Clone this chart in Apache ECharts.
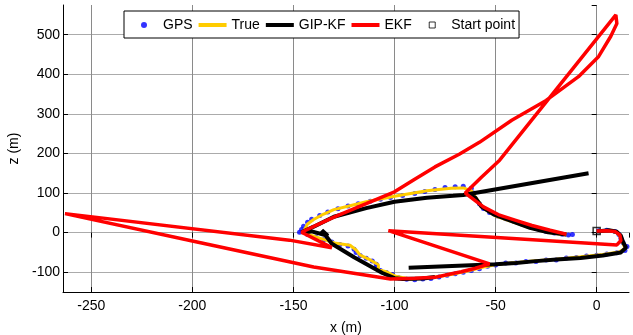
<!DOCTYPE html>
<html>
<head>
<meta charset="utf-8">
<script src="https://cdn.jsdelivr.net/npm/echarts@6/dist/echarts.min.js"></script>
<style>
  html, body { margin: 0; padding: 0; background: #fff; }
  #chart { width: 633px; height: 335px; }
</style>
</head>
<body>
<div id="chart"></div>
<script>
// x / z positions (m)
const trueX = [0, 6, 10, 12, 13, 14, 11, 3, -8, -20, -30, -38, -48, -55, -63, -72, -82, -92, -99, -104, -108, -108, -112, -117, -119, -122, -129, -137, -143, -145,
  -143, -140, -135, -130, -122, -114, -100, -84, -72, -66, -62, -60, -56, -50, -42, -33, -24, -15]
const trueY = [3, 5, 0, -12, -27, -40, -49, -55, -61, -67, -71, -75, -79, -86, -96, -106, -114, -117, -111, -99, -94, -81, -69, -57, -44, -32, -27, -14, -4, 3,
  22, 33, 47, 58, 68, 78, 92, 106, 112, 113, 106, 90, 62, 42, 28, 12, 1, -6]

const gpsX = [1, 5, 9, 11, 12, 13, 15, 14, 10, 5, 0,
  -5, -10, -15, -20, -25, -30, -35, -40, -45, -50, -54, -58, -62, -66, -70, -74, -78, -82, -86, -90, -94, -98,
  -101, -104, -107, -109, -109, -111, -114, -117, -119, -120, -123, -127, -131, -135, -139, -143, -147,
  -146, -145, -143, -141, -137, -133, -128, -123, -118, -112, -107, -102, -96, -90, -85, -80, -75, -70, -66, -62,
  -61, -60, -58, -56, -53, -49, -45, -41, -37, -33, -29, -25, -21, -17, -14, -12]
const gpsY = [5, 6, 3, -5, -15, -25, -35, -45, -51, -54, -57,
  -59, -63, -64, -69, -69, -73, -73, -77, -77, -82, -85, -91, -96, -100, -104, -108, -112, -116, -117, -119, -118, -114,
  -106, -101, -96, -88, -80, -72, -65, -58, -50, -42, -34, -30, -24, -18, -11, -5, 1,
  8, 16, 26, 34, 43, 52, 60, 67, 73, 79, 84, 89, 94, 99, 104, 109, 114, 116, 117, 112,
  100, 86, 73, 61, 51, 42, 35, 29, 22, 15, 9, 3, -1, -4, -6, -5]

// null = gap in the GIP-KF track
const gipX = [0, 6, 10, 12, 13, 14.5, 12, 3, -8, -20, -30, -40, -50, -93, null,
  -80, -86, -96, -100, -106, -120, -131, -136, -133, -141, -146,
  -140, -130, -114, -100, -84, -71, -66, -4, null,
  -64, -60, -57, -51, -42, -33, -24, -15]
const gipY = [3, 6, 2, -8, -23, -38, -50, -58, -64, -68, -72, -77, -80, -89, null,
  -112, -116, -117, -115, -102, -62, -28, 6, -8, 3, 1,
  15, 40, 62, 78, 88, 93, 95, 150, null,
  100, 88, 66, 46, 29, 12, 1, -5]

const ekfX = [0, 5, 9, 11.5, 12, 10, -103, -53, -60, -67, -73, -80, -90, -102, -140, -200, -263, -152, -131, -146,
  -138, -130, -114, -100, -90, -80, -68, -58, -42, -25, -9, 1, 7, 10, 9.5, -48, -57, -65,
  -56, -48, -40, -32, -23, -15]
const ekfY = [4, 5, 3, -6, -20, -31, 5, -79, -90, -99, -105, -113, -115, -117, -87, -21, 48, -19, -38, 1,
  20, 39, 73, 103, 135, 166, 198, 228, 284, 334, 394, 445, 496, 528, 550, 183, 140, 100,
  65, 44, 31, 18, 6, -4]

const startX = [0]
const startY = [4]

const xTicks = [-250, -200, -150, -100, -50, 0]
const yTicks = [-100, 0, 100, 200, 300, 400, 500]

function pairs(xs, ys) {
  return xs.map(function(x, i) { return [x, ys[i]] })
}

const font = 'Liberation Sans, Arial, sans-serif'
// legend icons span the full 28px slot so items line up like the original legend
const lineIcon = 'path://M0 1H28V5H0Z'
const dotIcon = 'path://M0 3L0 3M11 3A3 3 0 1 1 17 3A3 3 0 1 1 11 3ZM28 3L28 3'
const boxIcon = 'path://M0 0L0 0M11 0H17V6H11ZM28 6L28 6'

const chart = echarts.init(document.getElementById('chart'), null, { renderer: 'canvas' })

const sideAxis = {
  axisLine: { show: false },
  axisTick: { inside: true, length: 5, lineStyle: { color: '#000' } },
  axisLabel: { show: false },
  splitLine: { show: false }
}

chart.setOption({
  animation: false,
  backgroundColor: '#fff',
  grid: { left: 63, right: 4, top: 5, bottom: 43, outerBoundsMode: 'none' },
  legend: {
    left: 124,
    top: 11,
    padding: [7, 4, 6, 6],
    itemGap: 6,
    itemWidth: 28,
    itemHeight: 6,
    borderColor: '#000',
    borderWidth: 1,
    backgroundColor: '#fff',
    textStyle: { fontFamily: font, fontSize: 14, color: '#000' },
    itemStyle: { borderWidth: 0 },
    data: [
      { name: 'GPS', icon: dotIcon, itemStyle: { color: '#0000ff' } },
      { name: 'True', icon: lineIcon, itemStyle: { color: '#ffcc00' } },
      { name: 'GIP-KF', icon: lineIcon, itemStyle: { color: '#000' } },
      { name: 'EKF', icon: lineIcon, itemStyle: { color: '#ff0000' } },
      { name: 'Start point', icon: boxIcon, itemStyle: { color: '#fff', borderColor: '#000', borderWidth: 1 } }
    ]
  },
  xAxis: [{
    type: 'value',
    min: -264,
    max: 16,
    splitNumber: 6,
    name: 'x (m)',
    nameLocation: 'middle',
    nameGap: 29,
    nameTextStyle: { fontFamily: font, fontSize: 14, color: '#000' },
    axisLine: { onZero: false, lineStyle: { color: '#000', width: 1 } },
    axisTick: { inside: true, length: 5, lineStyle: { color: '#000' } },
    axisLabel: {
      fontFamily: font, fontSize: 14, color: '#000', margin: 7,
      showMinLabel: false, showMaxLabel: false,
      formatter: function(v) { return xTicks.indexOf(v) >= 0 ? String(v) : '' }
    },
    splitLine: { show: true, showMinLine: false, showMaxLine: false, lineStyle: { color: '#8a8a8a', width: 1 } }
  }, Object.assign({ type: 'value', position: 'top', min: -264, max: 16, splitNumber: 6 }, sideAxis)],
  yAxis: [{
    type: 'value',
    min: -150,
    max: 575,
    splitNumber: 7,
    name: 'z (m)',
    nameLocation: 'middle',
    nameGap: 28,
    nameTextStyle: { fontFamily: font, fontSize: 14, color: '#000' },
    axisLine: { show: true, onZero: false, lineStyle: { color: '#000', width: 1 } },
    axisTick: { inside: true, length: 5, lineStyle: { color: '#000' } },
    axisLabel: {
      fontFamily: font, fontSize: 14, color: '#000', margin: 3,
      showMinLabel: false, showMaxLabel: false,
      formatter: function(v) { return yTicks.indexOf(v) >= 0 ? String(v) : '' }
    },
    splitLine: { show: true, showMinLine: false, showMaxLine: false, lineStyle: { color: '#ababab', width: 1 } }
  }, Object.assign({ type: 'value', position: 'right', min: -150, max: 575, splitNumber: 7 }, sideAxis)],
  series: [
    {
      name: 'GPS',
      type: 'scatter',
      symbol: 'circle',
      symbolSize: 5,
      itemStyle: { color: '#0000ff' },
      data: pairs(gpsX, gpsY)
    },
    {
      name: 'True',
      type: 'line',
      symbol: 'none',
      lineStyle: { color: '#ffcc00', width: 3 },
      itemStyle: { color: '#ffcc00' },
      data: pairs(trueX, trueY)
    },
    {
      name: 'GIP-KF',
      type: 'line',
      symbol: 'none',
      connectNulls: false,
      lineStyle: { color: '#000', width: 4 },
      itemStyle: { color: '#000' },
      data: pairs(gipX, gipY)
    },
    {
      name: 'Start point',
      type: 'scatter',
      symbol: 'rect',
      symbolSize: 7,
      itemStyle: { color: 'rgba(0,0,0,0)', borderColor: '#000', borderWidth: 1.5 },
      data: pairs(startX, startY)
    },
    {
      name: 'EKF',
      type: 'line',
      symbol: 'none',
      lineStyle: { color: '#ff0000', width: 3.5 },
      itemStyle: { color: '#ff0000' },
      data: pairs(ekfX, ekfY)
    }
  ]
})
</script>
</body>
</html>
